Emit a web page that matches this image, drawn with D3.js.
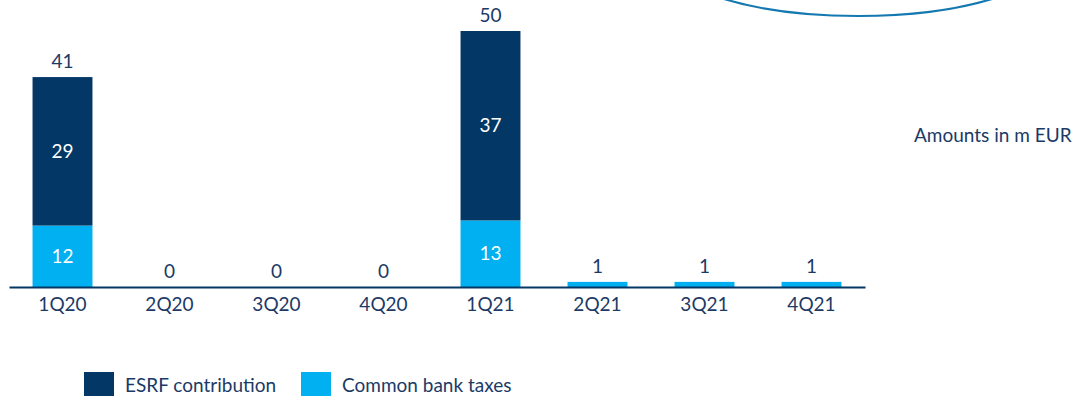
<!DOCTYPE html>
<html>
<head>
<meta charset="utf-8">
<script src="https://cdn.jsdelivr.net/npm/d3@7"></script>
<style>
  html, body { margin: 0; padding: 0; background: #ffffff; }
  svg { display: block; font-family: Lato, "Open Sans", sans-serif; }
</style>
</head>
<body>
<svg id="chart" width="1089" height="397"></svg>
<script>
const categories = ["1Q20", "2Q20", "3Q20", "4Q20", "1Q21", "2Q21", "3Q21", "4Q21"];
const esrf = [29, 0, 0, 0, 37, 0, 0, 0];
const bankTaxes = [12, 0, 0, 0, 13, 1, 1, 1];
const seriesNames = ["ESRF contribution", "Common bank taxes"];
const unitNote = "Amounts in m EUR";

const colors = { esrf: "#023766", taxes: "#00b0f0", text: "#1b3a66", arc: "#1479b0" };
const fs = 19;

const svg = d3.select("#chart");
const baseY = 287;

const x = d3.scaleBand().domain(categories).range([9, 865]).paddingInner(0.44).paddingOuter(0.22);
const y = d3.scaleLinear().domain([0, 50]).range([baseY, 31]);

const rows = categories.map((c, i) => ({ cat: c, taxes: bankTaxes[i], esrf: esrf[i] }));
const stack = d3.stack().keys(["taxes", "esrf"])(rows);

// decorative callout arc at top right
svg.append("ellipse")
  .attr("cx", 858).attr("cy", -44).attr("rx", 192).attr("ry", 60)
  .attr("fill", "none").attr("stroke", colors.arc).attr("stroke-width", 2.2);

const layerColor = { taxes: colors.taxes, esrf: colors.esrf };
stack.forEach(layer => {
  svg.append("g").selectAll("rect").data(layer).join("rect")
    .attr("x", d => x(d.data.cat))
    .attr("width", x.bandwidth())
    .attr("y", d => y(d[1]))
    .attr("height", d => y(d[0]) - y(d[1]))
    .attr("fill", layerColor[layer.key]);
  svg.append("g").selectAll("text").data(layer.filter(d => d[1] - d[0] >= 5)).join("text")
    .attr("x", d => x(d.data.cat) + x.bandwidth() / 2)
    .attr("y", d => (y(d[0]) + y(d[1])) / 2)
    .attr("dy", "0.35em")
    .attr("text-anchor", "middle")
    .attr("fill", "#ffffff")
    .attr("font-size", fs)
    .text(d => d[1] - d[0]);
});

// axis
const axis = d3.axisBottom(x).tickSize(0).tickPadding(11);
const gx = svg.append("g").attr("transform", `translate(0,${baseY})`).call(axis);
gx.select(".domain").attr("stroke", colors.esrf).attr("stroke-width", 2);
gx.selectAll("text").attr("fill", colors.text).attr("font-size", fs).attr("font-family", "Lato, sans-serif");

// totals
svg.append("g").selectAll("text").data(rows).join("text")
  .attr("x", d => x(d.cat) + x.bandwidth() / 2)
  .attr("y", d => y(d.taxes + d.esrf) - 9)
  .attr("text-anchor", "middle")
  .attr("fill", colors.text)
  .attr("font-size", fs)
  .text(d => d.taxes + d.esrf);

// unit note
svg.append("text").attr("x", 914).attr("y", 142)
  .attr("fill", colors.text).attr("font-size", fs).text(unitNote);

// legend
const legend = svg.append("g");
const legendItems = [
  { name: seriesNames[0], color: colors.esrf, x: 84 },
  { name: seriesNames[1], color: colors.taxes, x: 301 }
];
legendItems.forEach(it => {
  legend.append("rect").attr("x", it.x).attr("y", 372).attr("width", 30).attr("height", 24).attr("fill", it.color);
  legend.append("text").attr("x", it.x + 41).attr("y", 392)
    .attr("fill", colors.text).attr("font-size", fs).text(it.name);
});
</script>
</body>
</html>
